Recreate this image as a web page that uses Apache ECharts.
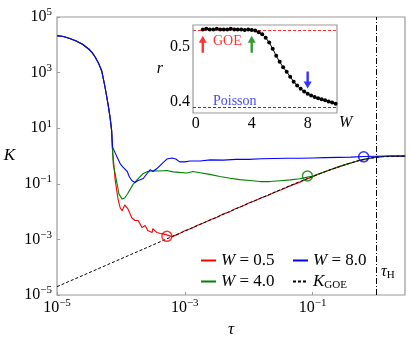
<!DOCTYPE html>
<html>
<head>
<meta charset="utf-8">
<script src="https://cdn.jsdelivr.net/npm/echarts@6/dist/echarts.min.js"></script>
<style>
html, body { margin: 0; padding: 0; background: #fff; }
#chart { width: 411px; height: 343px; }
</style>
</head>
<body>
<div id="chart"></div>
<script>
// main panel, points are [log10(tau), log10(K)]
var decayShared = [
    [-5.00, 4.33], [-4.90, 4.30], [-4.80, 4.23], [-4.70, 4.14], [-4.60, 4.02],
    [-4.50, 3.84], [-4.45, 3.72], [-4.40, 3.55], [-4.35, 3.34], [-4.30, 3.06],
    [-4.25, 2.50], [-4.20, 1.85], [-4.17, 1.40], [-4.145, 0.92]
];
var redTail = [
    [-4.135, 0.32], [-4.09, -0.85], [-4.045, -1.55], [-4.01, -1.87], [-3.98, -1.97],
    [-3.94, -1.76], [-3.89, -1.90], [-3.83, -2.22], [-3.78, -2.32], [-3.73, -2.32],
    [-3.67, -2.57], [-3.62, -2.50], [-3.58, -2.68], [-3.51, -2.75], [-3.50, -2.61],
    [-3.44, -2.75], [-3.39, -2.78], [-3.31, -2.82], [-3.28, -2.89], [-3.2, -2.90],
    [-3.1, -2.81], [-3.0, -2.69], [-2.9, -2.61], [-2.8, -2.49], [-2.7, -2.40],
    [-2.6, -2.29], [-2.5, -2.21], [-2.4, -2.09], [-2.3, -2.01], [-2.2, -1.89],
    [-2.1, -1.81], [-2.0, -1.69], [-1.9, -1.61], [-1.8, -1.50], [-1.7, -1.42],
    [-1.6, -1.31], [-1.5, -1.22], [-1.4, -1.12], [-1.3, -1.03], [-1.2, -0.94],
    [-1.1, -0.84], [-1.0, -0.75], [-0.9, -0.65], [-0.8, -0.56], [-0.7, -0.48],
    [-0.6, -0.40], [-0.5, -0.32], [-0.4, -0.25], [-0.3, -0.18], [-0.2, -0.13],
    [-0.1, -0.08], [0.0, -0.04], [0.1, -0.02], [0.2, -0.01], [0.3, -0.01], [0.45, 0.0]
];
var greenTail = [
    [-4.12, -0.28], [-4.06, -0.99], [-4.03, -1.37], [-3.98, -1.55], [-3.94, -1.51],
    [-3.89, -1.34], [-3.81, -1.02], [-3.73, -0.81], [-3.65, -0.63], [-3.58, -0.56],
    [-3.50, -0.53], [-3.39, -0.54], [-3.28, -0.52], [-3.18, -0.57], [-3.08, -0.59],
    [-2.97, -0.61], [-2.87, -0.56], [-2.76, -0.60], [-2.61, -0.66], [-2.45, -0.74],
    [-2.29, -0.80], [-2.14, -0.85], [-1.98, -0.88], [-1.82, -0.92], [-1.67, -0.92],
    [-1.51, -0.89], [-1.35, -0.86], [-1.20, -0.82], [-1.08, -0.76], [-1.0, -0.73],
    [-0.9, -0.64], [-0.8, -0.56], [-0.7, -0.48], [-0.6, -0.39], [-0.5, -0.32],
    [-0.4, -0.25], [-0.3, -0.18], [-0.2, -0.12], [-0.1, -0.08], [0.0, -0.04],
    [0.1, -0.02], [0.2, -0.01], [0.3, 0.0], [0.45, 0.0]
];
var blueTail = [
    [-4.13, 0.32], [-4.06, -0.04], [-4.01, -0.28], [-3.97, -0.39], [-3.90, -0.56],
    [-3.87, -0.74], [-3.83, -0.88], [-3.78, -0.95], [-3.73, -0.88], [-3.65, -0.81],
    [-3.59, -0.63], [-3.54, -0.49], [-3.50, -0.56], [-3.44, -0.46], [-3.36, -0.28],
    [-3.28, -0.11], [-3.20, -0.07], [-3.14, -0.11], [-3.08, -0.21], [-3.00, -0.21],
    [-2.92, -0.18], [-2.76, -0.18], [-2.6, -0.14], [-2.4, -0.15], [-2.2, -0.12],
    [-2.0, -0.12], [-1.8, -0.10], [-1.6, -0.09], [-1.4, -0.08], [-1.2, -0.08],
    [-1.0, -0.07], [-0.8, -0.06], [-0.6, -0.05], [-0.4, -0.04], [-0.2, -0.02],
    [0.0, -0.01], [0.2, 0.0], [0.45, 0.0]
];
var goeCurve = [
    [-5.0, -4.70], [-4.0, -3.70], [-3.0, -2.70], [-2.5, -2.20], [-2.0, -1.70],
    [-1.5, -1.21], [-1.25, -0.97], [-1.0, -0.74], [-0.9, -0.65], [-0.75, -0.52],
    [-0.6, -0.40], [-0.5, -0.32], [-0.4, -0.25], [-0.3, -0.18], [-0.25, -0.15],
    [-0.1, -0.08], [0.0, -0.045], [0.1, -0.026], [0.25, -0.012], [0.45, -0.005]
];
// open circles where each W curve meets K_GOE
var meetPoints = [[-3.28, -2.89], [-1.08, -0.72], [-0.2, -0.03]];
var meetColors = ['#ff0000', '#008000', '#0000ff'];
var tauH = 1;

var xTicks = [1e-5, 1e-3, 1e-1];
var yTicks = [1e-5, 1e-3, 1e-1, 1e1, 1e3, 1e5];

// inset: mean gap ratio r against disorder W
var insetW = [0.5, 0.75, 1, 1.25, 1.5, 1.75, 2, 2.25, 2.5, 2.75, 3, 3.25, 3.5, 3.75,
    4, 4.25, 4.5, 4.75, 5, 5.25, 5.5, 5.75, 6, 6.25, 6.5, 6.75, 7, 7.25, 7.5, 7.75,
    8, 8.25, 8.5, 8.75, 9, 9.25, 9.5, 9.75, 10];
var insetR = [0.532, 0.533, 0.532, 0.532, 0.533, 0.532, 0.532, 0.532, 0.533, 0.532,
    0.532, 0.532, 0.531, 0.532, 0.531, 0.530, 0.527, 0.523, 0.517, 0.508, 0.497,
    0.484, 0.473, 0.463, 0.455, 0.446, 0.437, 0.430, 0.424, 0.419, 0.415, 0.412,
    0.409, 0.407, 0.405, 0.403, 0.401, 0.399, 0.397];
var rGOE = 0.5307;
var rPoisson = 0.386;
var arrowW = [0.5, 4, 8];
var arrowR = [0.505, 0.505, 0.44];
var arrowColors = ['#ff0000', '#008000', '#0000ff'];
var arrowRotate = [0, 0, 180];

var serif = 'Liberation Serif';
var frame = '#999';

function toPts(arr) {
    return arr.map(function(p) { return [Math.pow(10, p[0]), Math.pow(10, p[1])]; });
}

function powLabel(v) {
    var e = Math.round(Math.log(v) / Math.LN10);
    return '{b|10}{s|' + (e < 0 ? '\u2212' + (-e) : e) + '}';
}
var powRich = {
    b: { fontFamily: serif, fontSize: 16, color: '#000' },
    s: { fontFamily: serif, fontSize: 11, color: '#000', padding: [0, 0, 9, 0] }
};

var lineSerie = function(name, pts, color) {
    return {
        name: name,
        type: 'line',
        xAxisIndex: 0,
        yAxisIndex: 0,
        data: toPts(pts),
        symbol: 'none',
        smooth: false,
        lineStyle: { color: color, width: 1.1 },
        itemStyle: { color: color }
    };
};

// two legend columns, matplotlib style (ncol=2)
var legendBase = function(left, names) {
    return {
        orient: 'vertical', left: left, top: 247,
        itemWidth: 15, itemHeight: 8, itemGap: 4,
        itemStyle: { opacity: 0 },
        data: names,
        formatter: function(name) {
            if (name === 'K_GOE') return '{i|K}{sub|GOE}';
            return '{i|W} = ' + name.split('= ')[1];
        },
        textStyle: {
            fontFamily: serif, fontSize: 17, color: '#000',
            rich: {
                i: { fontFamily: serif, fontStyle: 'italic', fontSize: 17, color: '#000' },
                sub: { fontFamily: serif, fontSize: 11, color: '#000', padding: [7, 0, 0, 0] }
            }
        }
    };
};

var arrowPath = 'path://M4,0 L8,7 L5.2,7 L5.2,17 L2.8,17 L2.8,7 L0,7 Z';

var option = {
    animation: false,
    backgroundColor: '#fff',
    grid: [
        { left: 57, top: 17, width: 348, height: 284, show: true, borderColor: frame, borderWidth: 1.2 },
        { left: 193, top: 25, width: 144, height: 88, show: true, borderColor: frame, borderWidth: 1.2, backgroundColor: '#fff', z: 5 }
    ],
    xAxis: [
        {
            type: 'log', gridIndex: 0, logBase: 10, min: 1e-5, max: 2.8,
            name: '\u03c4', nameLocation: 'middle', nameGap: 26,
            nameTextStyle: { fontFamily: serif, fontStyle: 'italic', fontSize: 17, color: '#000' },
            axisLine: { show: false },
            axisTick: { inside: true, length: 3, customValues: xTicks, lineStyle: { color: frame } },
            axisLabel: { customValues: xTicks, margin: 3, formatter: powLabel, rich: powRich },
            splitLine: { show: false }
        },
        {
            type: 'value', gridIndex: 1, min: -0.2, max: 10.1,
            name: 'W', nameLocation: 'end', nameGap: 2, nameMoveOverlap: false,
            nameTextStyle: { fontFamily: serif, fontStyle: 'italic', fontSize: 16, color: '#000', verticalAlign: 'top', padding: [2, 0, 0, 0] },
            axisLine: { show: false },
            axisTick: { inside: true, length: 3, customValues: [0, 4, 8], lineStyle: { color: frame } },
            axisLabel: { customValues: [0, 4, 8], margin: 3, fontFamily: serif, fontSize: 16, color: '#000' },
            splitLine: { show: false }
        }
    ],
    yAxis: [
        {
            type: 'log', gridIndex: 0, logBase: 10, min: 1e-5, max: 1e5,
            name: 'K', nameLocation: 'middle', nameGap: 42, nameRotate: 0,
            nameTextStyle: { fontFamily: serif, fontStyle: 'italic', fontSize: 17, color: '#000' },
            axisLine: { show: false },
            axisTick: { inside: true, length: 3, customValues: yTicks, lineStyle: { color: frame } },
            axisLabel: { customValues: yTicks, margin: 5, formatter: powLabel, rich: powRich },
            splitLine: { show: false }
        },
        {
            type: 'value', gridIndex: 1, min: 0.38, max: 0.54,
            name: 'r', nameLocation: 'middle', nameGap: 30, nameRotate: 0,
            nameTextStyle: { fontFamily: serif, fontStyle: 'italic', fontSize: 16, color: '#000' },
            axisLine: { show: false },
            axisTick: { inside: true, length: 3, customValues: [0.4, 0.5], lineStyle: { color: frame } },
            axisLabel: {
                customValues: [0.4, 0.5], margin: 3, fontFamily: serif, fontSize: 16, color: '#000',
                formatter: function(v) { return v.toFixed(1); }
            },
            splitLine: { show: false }
        }
    ],
    legend: [
        legendBase(195, ['W = 0.5', 'W = 4.0']),
        legendBase(287, ['W = 8.0', 'K_GOE'])
    ],
    graphic: [
        { type: 'text', left: 213, top: 34, z: 20, style: { text: 'GOE', fill: '#ff3030', font: '14px "Liberation Serif"' } },
        { type: 'text', left: 213, top: 94, z: 20, style: { text: 'Poisson', fill: '#4848ff', font: '14px "Liberation Serif"' } },
        {
            type: 'text', left: 381, top: 264, z: 20,
            style: {
                text: '{t|\u03c4}{h|H}',
                rich: {
                    t: { fontFamily: serif, fontStyle: 'italic', fontSize: 16, fill: '#000' },
                    h: { fontFamily: serif, fontSize: 11, fill: '#000', padding: [6, 0, 0, 0] }
                }
            }
        }
    ],
    series: []
};

option.series.push(lineSerie('W = 0.5', decayShared.concat(redTail), '#ff0000'));
option.series.push(lineSerie('W = 4.0', decayShared.concat(greenTail), '#008000'));
option.series.push(lineSerie('W = 8.0', decayShared.concat(blueTail), '#0000ff'));

var goe = lineSerie('K_GOE', goeCurve, '#000');
goe.lineStyle = { color: '#000', width: 1, type: [3, 2] };
goe.markLine = {
    silent: true, symbol: 'none', label: { show: false },
    lineStyle: { color: '#000', width: 1, type: [6, 2, 1, 2] },
    data: [{ xAxis: tauH }]
};
option.series.push(goe);

option.series.push({
    name: 'meet',
    type: 'scatter',
    xAxisIndex: 0, yAxisIndex: 0,
    symbol: 'circle', symbolSize: 10, z: 6,
    data: toPts(meetPoints).map(function(p, i) {
        return { value: p, itemStyle: { color: 'rgba(0,0,0,0)', borderColor: meetColors[i], borderWidth: 1.5 } };
    })
});

// inset series
option.series.push({
    name: 'r',
    type: 'line',
    xAxisIndex: 1, yAxisIndex: 1,
    data: insetW.map(function(w, i) { return [w, insetR[i]]; }),
    symbol: 'circle', symbolSize: 4, showSymbol: true, z: 10,
    lineStyle: { color: '#000', width: 1 },
    itemStyle: { color: '#000' },
    markLine: {
        silent: true, symbol: 'none', label: { show: false },
        data: [
            { yAxis: rGOE, lineStyle: { color: '#ff3030', width: 1, type: [3, 2] } },
            { yAxis: rPoisson, lineStyle: { color: '#3030ff', width: 1, type: [3, 2] } }
        ]
    }
});
option.series.push({
    name: 'arrows',
    type: 'scatter',
    xAxisIndex: 1, yAxisIndex: 1, z: 11,
    symbol: arrowPath, symbolSize: [8, 17],
    data: arrowW.map(function(w, i) {
        return { value: [w, arrowR[i]], symbolRotate: arrowRotate[i], itemStyle: { color: arrowColors[i] } };
    })
});

var mychart = echarts.init(document.getElementById('chart'), null, { renderer: 'canvas' });
mychart.setOption(option);
</script>
</body>
</html>
